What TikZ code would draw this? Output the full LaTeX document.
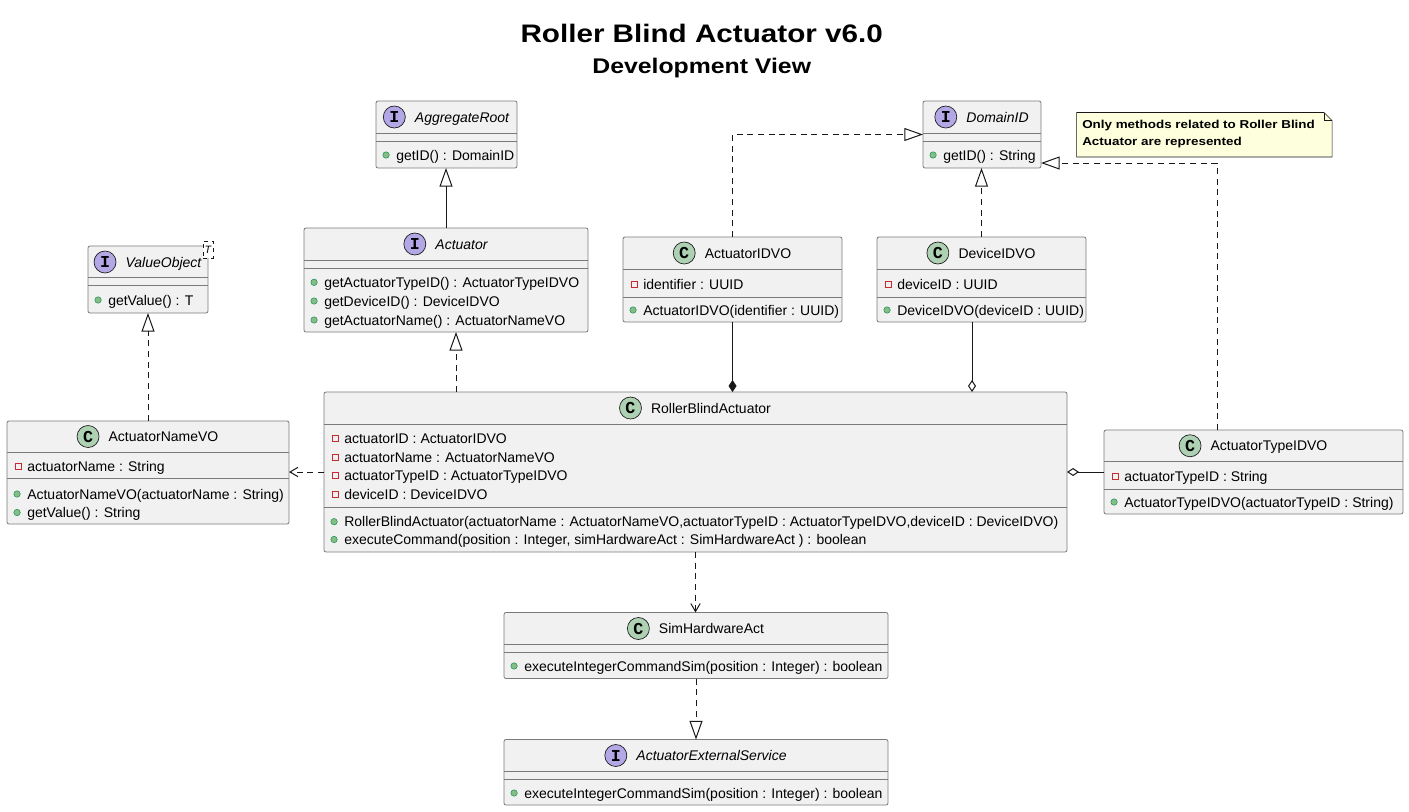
\documentclass[tikz,border=0pt]{standalone}
\usepackage{fontspec}
\setmainfont{Liberation Sans}
\newfontfamily\widefont{Liberation Sans}[FakeStretch=1.17]
\newfontfamily\iconfont{Liberation Mono}
\usetikzlibrary{arrows.meta,positioning,fit}
\definecolor{boxfill}{HTML}{F1F1F1}
\definecolor{boxline}{HTML}{7A7A7A}
\definecolor{linecol}{HTML}{181818}
\definecolor{cgreen}{HTML}{ADD1B2}
\definecolor{ipurple}{HTML}{B4A7E5}
\definecolor{notefill}{HTML}{FEFFDD}
\definecolor{privred}{HTML}{C82930}
\definecolor{pubfill}{HTML}{84BE84}
\definecolor{publine}{HTML}{038048}
\begin{document}
\begin{tikzpicture}[x=0.75pt,y=-0.75pt]
\def\u{0.75pt}
\def\hd{-16*\u}
\tikzset{base/.style={draw=boxline,line width=0.6pt},
box/.style={base,fill=boxfill,rounded corners=1.5pt,inner sep=0,outer sep=0},
sep/.style={base},
cname/.style={inner sep=0,text height=7.5pt,text depth=0pt,font=\fontsize{10.5}{12}\selectfont},
iname/.style={cname,font=\fontsize{10.5}{12}\selectfont\itshape},
icon/.style={circle,draw=linecol,line width=0.5pt,minimum size=22*\u,inner sep=0,font=\iconfont\bfseries\fontsize{12.5}{12}\selectfont},
cicon/.style={icon,fill=cgreen},
iicon/.style={icon,fill=ipurple},
member/.style={anchor=west,inner sep=0,text height=7.5pt,text depth=0pt,font=\fontsize{10.5}{12}\selectfont},
pubdot/.style={circle,fill=pubfill,draw=publine,line width=0.3pt,minimum size=6.5*\u,inner sep=0,text height=0pt,text depth=0pt,xshift=-6.5*\u},
privsq/.style={draw=privred,line width=0.7pt,minimum size=6*\u,inner sep=0,text height=0pt,text depth=0pt,xshift=-5.5*\u},
pub/.style={member,label={[pubdot]left:{}}},
priv/.style={member,label={[privsq]left:{}}},
generic/.style={draw=linecol,dashed,line width=0.4pt,fill=white,inner sep=0,minimum width=10*\u,minimum height=17*\u,font=\itshape\fontsize{8}{9}\selectfont},
link/.style={draw=linecol,line width=0.75pt},
dashedlink/.style={link,dash pattern=on 4.5pt off 3.5pt},
inherit/.style={link,-{Triangle[open,length=14pt,width=9.75pt]}},
realize/.style={dashedlink,-{Triangle[open,length=14pt,width=9.75pt]}},
compose/.style={link,-{Diamond[length=9pt,width=6pt]}},
aggreg/.style={link,-{Diamond[open,length=9pt,width=6pt]}},
uses/.style={dashedlink,-{Straight Barb[length=6pt,width=7pt]}},
notebox/.style={draw=linecol,line width=0.4pt,fill=notefill},
notetext/.style={anchor=west,align=left,inner sep=0,font=\widefont\bfseries\fontsize{8.6}{12.75}\selectfont},
titlestyle/.style={inner sep=0,text height=13.6pt,text depth=0pt,font=\widefont\bfseries\fontsize{19}{23}\selectfont},
substyle/.style={inner sep=0,text height=11.4pt,text depth=0pt,font=\widefont\bfseries\fontsize{15.9}{19}\selectfont}}
\useasboundingbox (0,0) rectangle (1409,811);

\node[titlestyle] (title) at (701.7,33) {Roller Blind Actuator v6.0};
\node[substyle] (subtitle) at (701.7,66) {Development View};

\node[box,fit={(376,101)(517,168)}] (agg) {};
\node[iname] (aggn) at ([xshift=15.5*\u,yshift=\hd]agg.north) {AggregateRoot};
\node[iicon,left=6.75pt of aggn] {I};
\draw[sep] (376,133) -- (517,133) (376,141) -- (517,141);
\node[pub] at (396,155) {getID() : DomainID};

\node[box,fit={(923,101)(1041,168)}] (dom) {};
\node[iname] (domn) at ([xshift=15.5*\u,yshift=\hd]dom.north) {DomainID};
\node[iicon,left=6.75pt of domn] {I};
\draw[sep] (923,133) -- (1041,133) (923,141) -- (1041,141);
\node[pub] at (943,155) {getID() : String};

\node[box,fit={(88,246)(208,313)}] (vo) {};
\node[iname] (von) at ([xshift=15.5*\u,yshift=\hd]vo.north) {ValueObject};
\node[iicon,left=6.75pt of von] {I};
\draw[sep] (88,277) -- (208,277) (88,285) -- (208,285);
\node[pub] at (108,300) {getValue() : T};
\node[generic] (vot) at (208,249.5) {T};

\node[box,fit={(304,228)(588,332)}] (act) {};
\node[iname] (actn) at ([xshift=15.5*\u,yshift=\hd]act.north) {Actuator};
\node[iicon,left=6.75pt of actn] {I};
\draw[sep] (304,260) -- (588,260) (304,268) -- (588,268);
\node[pub] at (324,282.3) {getActuatorTypeID() : ActuatorTypeIDVO};
\node[pub] at (324,301) {getDeviceID() : DeviceIDVO};
\node[pub] at (324,320) {getActuatorName() : ActuatorNameVO};

\node[box,fit={(623,237)(842,322)}] (aidvo) {};
\node[cname] (aidvon) at ([xshift=15.5*\u,yshift=\hd]aidvo.north) {ActuatorIDVO};
\node[cicon,left=6.75pt of aidvon] {C};
\draw[sep] (623,269) -- (842,269) (623,297) -- (842,297);
\node[priv] at (643,284) {identifier : UUID};
\node[pub] at (643,310) {ActuatorIDVO(identifier : UUID)};

\node[box,fit={(877,237)(1086,322)}] (dev) {};
\node[cname] (devn) at ([xshift=15.5*\u,yshift=\hd]dev.north) {DeviceIDVO};
\node[cicon,left=6.75pt of devn] {C};
\draw[sep] (877,269) -- (1086,269) (877,297) -- (1086,297);
\node[priv] at (897,284) {deviceID : UUID};
\node[pub] at (897,310) {DeviceIDVO(deviceID : UUID)};

\node[box,fit={(324,392)(1067,552)}] (rba) {};
\node[cname] (rban) at ([xshift=15.5*\u,yshift=\hd]rba.north) {RollerBlindActuator};
\node[cicon,left=6.75pt of rban] {C};
\draw[sep] (324,424) -- (1067,424) (324,507) -- (1067,507);
\node[priv] at (344,438.3) {actuatorID : ActuatorIDVO};
\node[priv] at (344,457) {actuatorName : ActuatorNameVO};
\node[priv] at (344,475.7) {actuatorTypeID : ActuatorTypeIDVO};
\node[priv] at (344,494.3) {deviceID : DeviceIDVO};
\node[pub] at (344,521.7) {RollerBlindActuator(actuatorName : ActuatorNameVO,actuatorTypeID : ActuatorTypeIDVO,deviceID : DeviceIDVO)};
\node[pub] at (344,539.5) {executeCommand(position : Integer, simHardwareAct : SimHardwareAct ) : boolean};

\node[box,fit={(7,421)(289,524)}] (namevo) {};
\node[cname] (namevon) at ([xshift=15.5*\u,yshift=-15.5*\u]namevo.north) {ActuatorNameVO};
\node[cicon,left=6.75pt of namevon] {C};
\draw[sep] (7,452) -- (289,452) (7,478.5) -- (289,478.5);
\node[priv] at (27,466.5) {actuatorName : String};
\node[pub] at (27,494) {ActuatorNameVO(actuatorName : String)};
\node[pub] at (27,512.5) {getValue() : String};

\node[box,fit={(1104,430)(1403,514)}] (typ) {};
\node[cname] (typn) at ([xshift=15.5*\u,yshift=-15.75*\u]typ.north) {ActuatorTypeIDVO};
\node[cicon,left=6.75pt of typn] {C};
\draw[sep] (1104,461.5) -- (1403,461.5) (1104,489) -- (1403,489);
\node[priv] at (1124,476.5) {actuatorTypeID : String};
\node[pub] at (1124,502) {ActuatorTypeIDVO(actuatorTypeID : String)};

\node[box,fit={(504,612.5)(888,678.5)}] (sim) {};
\node[cname] (simn) at ([xshift=15.5*\u,yshift=\hd]sim.north) {SimHardwareAct};
\node[cicon,left=6.75pt of simn] {C};
\draw[sep] (504,644.5) -- (888,644.5) (504,652.5) -- (888,652.5);
\node[pub] at (524,666) {executeIntegerCommandSim(position : Integer) : boolean};

\node[box,fit={(504,739.5)(888,805)}] (ext) {};
\node[iname] (extn) at ([xshift=15.5*\u,yshift=\hd]ext.north) {ActuatorExternalService};
\node[iicon,left=6.75pt of extn] {I};
\draw[sep] (504,771.5) -- (888,771.5) (504,779.5) -- (888,779.5);
\node[pub] at (524,793) {executeIntegerCommandSim(position : Integer) : boolean};

\filldraw[notebox] (1076.7,112.5) -- (1324,112.5) -- (1332,120.5) -- (1332,157) -- (1076.7,157) -- cycle;
\draw[notebox,fill=none] (1324,112.5) |- (1332,120.5);
\node[notetext] (note) at (1082,134.5) {Only methods related to Roller Blind\\Actuator are represented};

\draw[inherit] (act.north) -- (act.north |- agg.south);
\draw[realize] (namevo.north) -- (namevo.north |- vo.south);
\draw[realize] ([xshift=10*\u]act.south |- rba.north) -- ([xshift=10*\u]act.south);
\draw[realize] (aidvo.north) |- (dom.west);
\draw[realize] (dev.north) -- (dev.north |- dom.south);
\draw[realize] ([xshift=-36.5*\u]typ.north) |- ([yshift=-28.5*\u]dom.east);
\draw[realize] (sim.south) -- (ext.north);
\draw[compose] (aidvo.south) -- (aidvo.south |- rba.north);
\draw[aggreg] ([xshift=-9.5*\u]dev.south) -- ([xshift=-9.5*\u]dev.south |- rba.north);
\draw[aggreg] (typ.west) -- (typ.west -| rba.east);
\draw[uses] (rba.west) -- (rba.west -| namevo.east);
\draw[uses] (rba.south) -- (rba.south |- sim.north);
\end{tikzpicture}
\end{document}
